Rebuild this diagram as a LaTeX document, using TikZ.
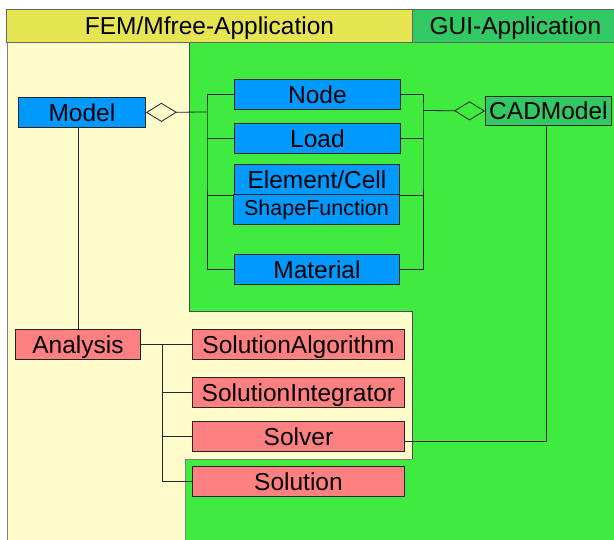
\documentclass[tikz,border=0pt]{standalone}
\usepackage{fontspec}
\setmainfont{Liberation Sans}
\usetikzlibrary{arrows.meta}
\definecolor{hdryellow}{RGB}{230,228,80}
\definecolor{hdrgreen}{RGB}{50,200,100}
\definecolor{femback}{RGB}{255,252,204}
\definecolor{guiback}{RGB}{62,235,62}
\definecolor{femblue}{RGB}{0,153,255}
\definecolor{solred}{RGB}{255,128,128}
\begin{document}
\begin{tikzpicture}[x=1pt, y=-1pt,%
      base/.style={rectangle, draw=black!85, line width=0.9pt, inner sep=0pt, anchor=north west,
        minimum height=30pt, text height=17.5pt, text depth=0pt, font=\fontsize{24.5}{28}\selectfont},
      header/.style={base, minimum height=33pt, draw=black!60},
      fembloc/.style={base, fill=femblue, minimum width=166pt},
      solbloc/.style={base, fill=solred, minimum width=212pt},
      link/.style={draw=black!85, line width=0.8pt},
      aggr/.style={link, -{Diamond[open, length=31pt, width=19pt]}},
      border/.style={draw=black!70, line width=0.8pt}]
      \useasboundingbox (0,0) rectangle (614,539);
      % application areas
      \fill[femback] (7,42) rectangle (630,560);
      \draw[border, draw=black!50] (7,42) -- (7,560);
      \fill[guiback] (189,42) -- (630,42) -- (630,560) -- (185,560) -- (185,459)
        -- (412,459) -- (412,311) -- (189,311) -- cycle;
      \draw[border] (189,42) -- (189,311) -- (412,311) -- (412,459);
      \draw[border, draw=black!50] (412,459) -- (185,459) -- (185,560);
      \node[header, fill=hdryellow, minimum width=406pt] (femhdr) at (6,9) {FEM/Mfree-Application};
      \node[header, fill=hdrgreen, minimum width=206pt] (guihdr) at (412,9) {GUI-Application};
      % model classes
      \node[fembloc, minimum width=127pt] (model) at (18,97) {Model};
      \node[fembloc] (node) at (234,79) {Node};
      \node[fembloc] (load) at (234,123) {Load};
      \node[fembloc, minimum width=165pt] (elem) at (234,164) {Element/Cell};
      \node[fembloc, font=\fontsize{21.5}{25}\selectfont, text height=12pt] (shapef) at (233,194) {ShapeFunction};
      \node[fembloc, minimum width=165pt] (material) at (234,254) {Material};
      \node[base, fill=hdrgreen, minimum width=126pt, minimum height=29pt] (cad) at (485,96) {CADModel};
      % analysis classes
      \node[base, fill=solred, minimum width=125pt] (analysis) at (15,329) {Analysis};
      \node[solbloc] (salg) at (192,329) {SolutionAlgorithm};
      \node[solbloc] (sint) at (192,377) {SolutionIntegrator};
      \node[solbloc] (solver) at (192,421) {Solver};
      \node[solbloc] (solution) at (192,466) {Solution};
      % connectors
      \coordinate (lbus) at (207,112);
      \coordinate (rbus) at (423,110.5);
      \coordinate (abus) at (162,344);
      \draw[link] (node.west) -| (lbus) |- (material.west);
      \draw[link] (load.west) -- (load.west -| lbus);
      \draw[link] (elem.south west) -- (elem.south west -| lbus);
      \draw[aggr] (lbus) -- (model.east);
      \draw[link] (node.east) -| (rbus) |- (material.east);
      \draw[link] (load.east) -- (load.east -| rbus);
      \draw[link] (elem.south east) -- (elem.south east -| rbus);
      \draw[aggr] (rbus) -- (cad.west);
      \draw[link] (analysis.north) -- (analysis.north |- model.south);
      \draw[link] (analysis.east) -- (salg.west);
      \draw[link] (abus) |- (solution.west);
      \draw[link] (sint.west) -- (sint.west -| abus);
      \draw[link] (solver.west) -- (solver.west -| abus);
      \draw[link] ([xshift=-2pt]cad.south) |- ([yshift=-5pt]solver.east);
    \end{tikzpicture}
\end{document}
